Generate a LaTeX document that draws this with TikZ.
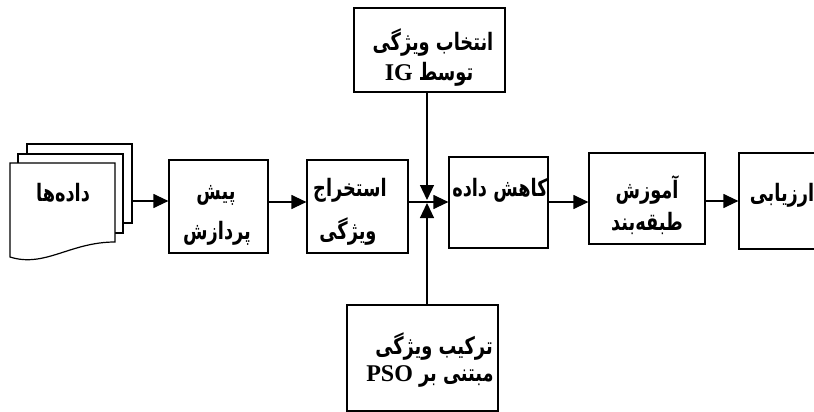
\documentclass[tikz,border=0pt]{standalone}
\usepackage{fontspec}
\usetikzlibrary{arrows.meta,calc}
\TeXXeTstate=1
\newfontfamily\fafont[Script=Arabic,FakeStretch=0.74]{DejaVu Sans}
\newfontfamily\enfont{Liberation Serif}
\tikzset{
  box/.style={draw, line width=1.2pt, fill=white, inner sep=0pt},
  txt/.style={inner sep=0pt, font=\fafont\bfseries\fontsize{24}{24}\selectfont},
  conn/.style={line width=1.2pt, -{Triangle[length=15pt,width=14pt]}},
  sheet/.style={draw, line width=1.2pt, fill=white, line join=miter}
}
\newcommand{\lat}[1]{\beginL{\enfont\bfseries\fontsize{24}{24}\selectfont #1}\endL}
\begin{document}
\begin{tikzpicture}[x=1pt,y=-1pt]
\clip (0,0) rectangle (814,412);
\fill[white] (0,0) rectangle (814,412);
% data stack
\draw[sheet] (27,154) -- (27,144) -- (132,144) -- (132,223) -- (123,223);
\draw[sheet] (18,163) -- (18,154) -- (123,154) -- (123,233) -- (115,233);
\draw[sheet] (10,163) -- (115,163) -- (115,242) .. controls (70,242) and (45,268) .. (10,257) -- cycle;
\coordinate (dataout) at (132,201);
\node[txt] (tdata) at (63,193) {\beginR داده‌ها\endR};
% boxes
\node[box, minimum width=99pt, minimum height=93pt] (pre) at (218.5,206.5) {};
\node[box, minimum width=101pt, minimum height=93pt] (ext) at (357.5,206.5) {};
\node[box, minimum width=99pt, minimum height=91pt] (red) at (498.5,202.5) {};
\node[box, minimum width=116pt, minimum height=91pt] (cls) at (647,198.5) {};
\node[box, minimum width=111pt, minimum height=96pt] (eva) at (794.5,201) {};
\node[box, minimum width=151pt, minimum height=84pt] (ig) at (429.5,50) {};
\node[box, minimum width=151pt, minimum height=106pt] (pso) at (422.5,358) {};
\coordinate (j) at (427,202);
% texts
\node[txt] (t1) at (216,195) {\beginR پیش\endR};
\node[txt] (t2) at (217,233) {\beginR پردازش\endR};
\node[txt] (t3) at (350,190) {\beginR استخراج\endR};
\node[txt] (t4) at (348,232) {\beginR ویژگی\endR};
\node[txt] (t5) at (500,190) {\beginR کاهش داده\endR};
\node[txt] (t6) at (647,190) {\beginR آموزش\endR};
\node[txt] (t7) at (647,223) {\beginR طبقه‌بند\endR};
\node[txt] (t8) at (782,195) {\beginR ارزیابی\endR};
\node[txt] (t9) at (433,43) {\beginR انتخاب ویژگی\endR};
\node[txt] (t10) at (429,74) {\beginR توسط \lat{IG}\endR};
\node[txt] (t11) at (434,347) {\beginR ترکیب ویژگی\endR};
\node[txt] (t12) at (430,376) {\beginR مبتنی بر \lat{PSO}\endR};
% connectors
\draw[conn] (dataout) -- (pre.west |- dataout);
\draw[conn] (pre.east |- j) -- (ext.west |- j);
\draw[conn] (ext.east |- j) -- (red.west |- j);
\draw[conn] (red.east |- j) -- (cls.west |- j);
\draw[conn] ($(cls.east |- j)+(0,-1)$) -- ($(eva.west |- j)+(0,-1)$);
\draw[conn] (ig.south -| j) -- ($(j)+(0,-2)$);
\draw[conn] (pso.north -| j) -- ($(j)+(0,1)$);
\end{tikzpicture}
\end{document}
